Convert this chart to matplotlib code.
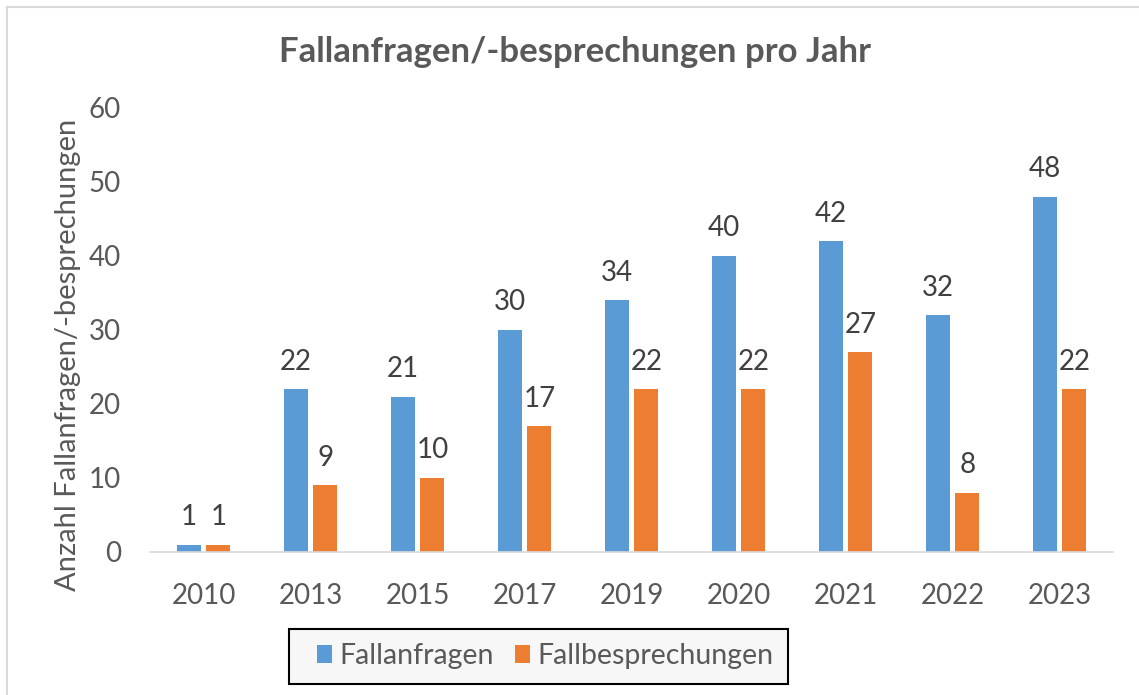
import numpy as np
from matplotlib import pyplot as plt
from matplotlib.patches import Rectangle

# Daten aus dem Diagramm
jahre = ["2010", "2013", "2015", "2017", "2019", "2020", "2021", "2022", "2023"]
fallanfragen = [1, 22, 21, 30, 34, 40, 42, 32, 48]
fallbesprechungen = [1, 9, 10, 17, 22, 22, 27, 8, 22]

plt.rcParams['font.family'] = ['Lato', 'DejaVu Sans']
textfarbe = "#595959"
blau = "#5b9bd5"
orange = "#ed7d31"

W, H = 1139, 695
fig = plt.figure(figsize=(W/100, H/100), dpi=100)
ax = fig.add_axes([150/W, 1 - 552/H, 963/W, 444/H])

x = np.arange(len(jahre))
breite = 0.224
b1 = ax.bar(x - 0.14, fallanfragen, breite, color=blau, label="Fallanfragen")
b2 = ax.bar(x + 0.14, fallbesprechungen, breite, color=orange, label="Fallbesprechungen")

#Beschriftungen über den Balken
for bars in (b1, b2):
    ax.bar_label(bars, padding=10.5, fontsize=20, color="#404040")

ax.set_xlim(-0.5, len(jahre) - 0.5)
ax.set_ylim(0, 60)
ax.set_yticks(range(0, 61, 10))
ax.set_xticks(x)
ax.set_xticklabels(jahre)
ax.tick_params(axis='both', length=0, labelsize=20, labelcolor=textfarbe)
ax.tick_params(axis='y', pad=21)
ax.tick_params(axis='x', pad=22)
for s in ("top", "right", "left"):
    ax.spines[s].set_visible(False)
ax.spines["bottom"].set_color("#d9d9d9")
ax.spines["bottom"].set_linewidth(1.2)

fig.text(68/W, 1 - 355/H, "Anzahl Fallanfragen/-besprechungen", rotation=90,
         ha="center", va="center", fontsize=21, color=textfarbe)
fig.text(575/W, 1 - 52/H, "Fallanfragen/-besprechungen pro Jahr",
         ha="center", va="center", fontsize=25, fontweight="bold", color=textfarbe)

# Legendenkasten extra zeichnen
fig.patches.append(Rectangle((289/W, 1 - 684/H), 499/W, 55/H, transform=fig.transFigure,
                             facecolor="#f7f7f7", edgecolor="black", linewidth=1.5))
leg = fig.legend(loc="center", bbox_to_anchor=(545/W, 1 - 656/H), ncol=2,
                 fontsize=20.5, frameon=False, handlelength=0.53,
                 handleheight=0.6, columnspacing=0.75, handletextpad=0.25,
                 borderpad=0.0, labelcolor=textfarbe)

# Rahmen um das Diagramm
fig.patches.append(Rectangle((7/W, -0.1), 1.2, 1 - 7/H + 0.1, transform=fig.transFigure,
                             fill=False, edgecolor="#d9d9d9", linewidth=1.5))

plt.savefig("out.png", dpi=100)
